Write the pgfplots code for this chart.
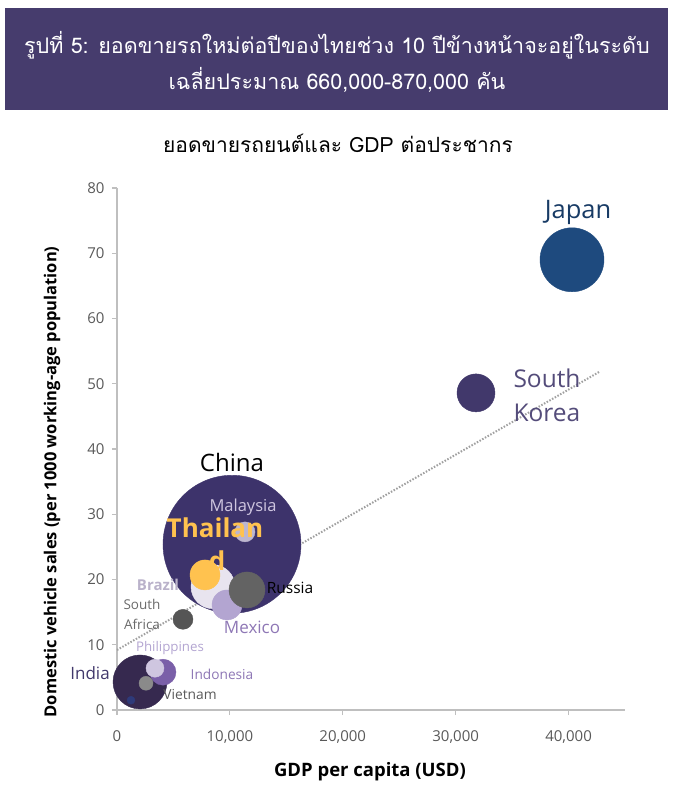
\documentclass[border=0pt]{standalone}
\usepackage{pgfplots}
\pgfplotsset{compat=1.18}
\usepackage{fontspec}
\setmainfont{Open Sans}
\newfontfamily\thaifont[Script=Thai]{Loma}
\definecolor{titlebg}{HTML}{463C6D}
\definecolor{axisgray}{HTML}{BFBFBF}
\definecolor{ticktext}{HTML}{595959}
\definecolor{cJapan}{HTML}{1E4A7E}
\definecolor{cKorea}{HTML}{41386B}
\definecolor{cChina}{HTML}{3D336B}
\definecolor{cIndia}{HTML}{36294F}
\definecolor{cIndo}{HTML}{7A5FA8}
\definecolor{cPhil}{HTML}{CFC6E0}
\definecolor{cMex}{HTML}{B3A5D1}
\definecolor{cBraz}{HTML}{E8E4EF}
\definecolor{cRus}{HTML}{636363}
\definecolor{cSAf}{HTML}{555555}
\definecolor{cViet}{HTML}{8A8A8A}
\definecolor{cMal}{HTML}{BDB6CF}
\definecolor{cThai}{HTML}{FFC24F}
\definecolor{cDot}{HTML}{2E3A7A}
\definecolor{trend}{HTML}{A0A0A0}
\begin{document}
\begin{tikzpicture}
\useasboundingbox (0,0) rectangle (673pt,-787pt);
\fill[titlebg] (5pt,-8pt) rectangle (668pt,-110pt);
\node[white, font=\thaifont\fontsize{21.5}{26}\selectfont] at (337pt,-45pt) {รูปที่ 5: ยอดขายรถใหม่ต่อปีของไทยช่วง 10 ปีข้างหน้าจะอยู่ในระดับ};
\node[white, font=\thaifont\fontsize{21.5}{26}\selectfont] at (337pt,-80pt) {เฉลี่ยประมาณ 660,000-870,000 คัน};
\node[black, font=\thaifont\fontsize{21}{24}\selectfont] at (338pt,-143pt) {ยอดขายรถยนต์และ GDP ต่อประชากร};
\begin{axis}[
  at={(117pt,-710pt)}, anchor=south west,
  scale only axis, width=508pt, height=522pt,
  xmin=0, xmax=45000, ymin=0, ymax=80,
  axis x line*=bottom, axis y line*=left,
  axis line style={draw=axisgray, line width=1.5pt, -},
  xtick={0,10000,20000,30000,40000},
  ytick={0,10,...,80},
  tick style={draw=axisgray, line width=1.2pt},
  tick align=outside, major tick length=5pt,
  scaled x ticks=false,
  /pgf/number format/assume math mode=true,
  /pgf/number format/1000 sep={,},
  tick label style={font=\fontsize{15}{17}\selectfont, text=ticktext},
  xticklabel style={yshift=-12pt},
  yticklabel style={xshift=-4pt},
  xlabel={GDP per capita (USD)},
  ylabel={Domestic vehicle sales (per 1000 working-age population)},
  xlabel style={font=\bfseries\fontsize{18.5}{20}\selectfont, at={(axis description cs:0.498,-0.119)}, anchor=center},
  ylabel style={font=\bfseries\fontsize{16.5}{18}\selectfont, at={(axis description cs:-0.128,0.437)}, anchor=center},
  clip=false,
]
\addplot[only marks, mark=*, mark size=69pt, color=cChina] coordinates {(10187,25.4)};
\addplot[trend, line width=2pt, dash pattern=on 1.5pt off 1.6pt] coordinates {(0,9.2)(42700,51.8)};
\addplot[only marks, mark=*, mark size=32pt, color=cJapan] coordinates {(40305,69.0)};
\addplot[only marks, mark=*, mark size=19pt, color=cKorea] coordinates {(31800,48.6)};
\addplot[only marks, mark=*, mark size=10pt, color=cMal] coordinates {(11338,27.3)};
\addplot[only marks, mark=*, mark size=22pt, color=cBraz] coordinates {(8504,18.9)};
\addplot[only marks, mark=*, mark size=15pt, color=cMex] coordinates {(9744,16.1)};
\addplot[only marks, mark=*, mark size=18pt, color=cRus] coordinates {(11515,18.4)};
\addplot[only marks, mark=*, mark size=15pt, color=cThai] coordinates {(7795,20.7)};
\addplot[only marks, mark=*, mark size=10pt, color=cSAf] coordinates {(5846,13.9)};
\addplot[only marks, mark=*, mark size=27pt, color=cIndia] coordinates {(2037,4.3)};
\addplot[only marks, mark=*, mark size=13pt, color=cIndo] coordinates {(4075,5.8)};
\addplot[only marks, mark=*, mark size=9pt, color=cPhil] coordinates {(3366,6.4)};
\addplot[only marks, mark=*, mark size=7pt, color=cViet] coordinates {(2569,4.1)};
\addplot[only marks, mark=*, mark size=4pt, color=cDot] coordinates {(1240,1.5)};
% label anchor points
\coordinate (lJapan) at (axis cs:40840,76.3);
\coordinate (lKorea) at (axis cs:34813,48.3);
\coordinate (lChina) at (axis cs:10187,37.9);
\coordinate (lMal) at (axis cs:11161,31.1);
\coordinate (lThai) at (axis cs:8680,27.9);
\coordinate (lThaiD) at (axis cs:8860,22.9);
\coordinate (lBraz) at (axis cs:3632,19.2);
\coordinate (lRus) at (axis cs:15325,18.7);
\coordinate (lSAf) at (axis cs:2215,14.6);
\coordinate (lMex) at (axis cs:11960,12.7);
\coordinate (lPhil) at (axis cs:4695,9.5);
\coordinate (lIndo) at (axis cs:9301,5.5);
\coordinate (lIndia) at (axis cs:-2390,5.7);
\coordinate (lViet) at (axis cs:6467,2.3);
\end{axis}
\node[text=cJapan!80!black, font=\fontsize{25.5}{30}\selectfont] at (lJapan) {Japan};
\node[text=cKorea!90, font=\fontsize{24.5}{34}\selectfont, align=left, anchor=west] at (lKorea) {South\\Korea};
\node[text=black, font=\fontsize{24}{28}\selectfont] at (lChina) {China};
\node[text=cPhil, font=\fontsize{16.5}{19}\selectfont] at (lMal) {Malaysia};
\node[text=cThai, font=\bfseries\fontsize{26}{30}\selectfont] at (lThai) {Thailan};
\node[text=cThai, font=\bfseries\fontsize{26}{30}\selectfont] at (lThaiD) {d};
\node[text=cPhil!90!black, font=\bfseries\fontsize{15}{17}\selectfont] at (lBraz) {Brazil};
\node[text=black, font=\fontsize{15.5}{18}\selectfont] at (lRus) {Russia};
\node[text=ticktext!90, font=\fontsize{13.5}{20}\selectfont, align=center] at (lSAf) {South\\Africa};
\node[text=cIndo!85, font=\fontsize{17}{20}\selectfont] at (lMex) {Mexico};
\node[text=cMex, font=\fontsize{13.3}{15}\selectfont] at (lPhil) {Philippines};
\node[text=cIndo!85, font=\fontsize{13.7}{16}\selectfont] at (lIndo) {Indonesia};
\node[text=cKorea, font=\fontsize{17}{20}\selectfont] at (lIndia) {India};
\node[text=ticktext, font=\fontsize{13.8}{16}\selectfont] at (lViet) {Vietnam};
\end{tikzpicture}
\end{document}
